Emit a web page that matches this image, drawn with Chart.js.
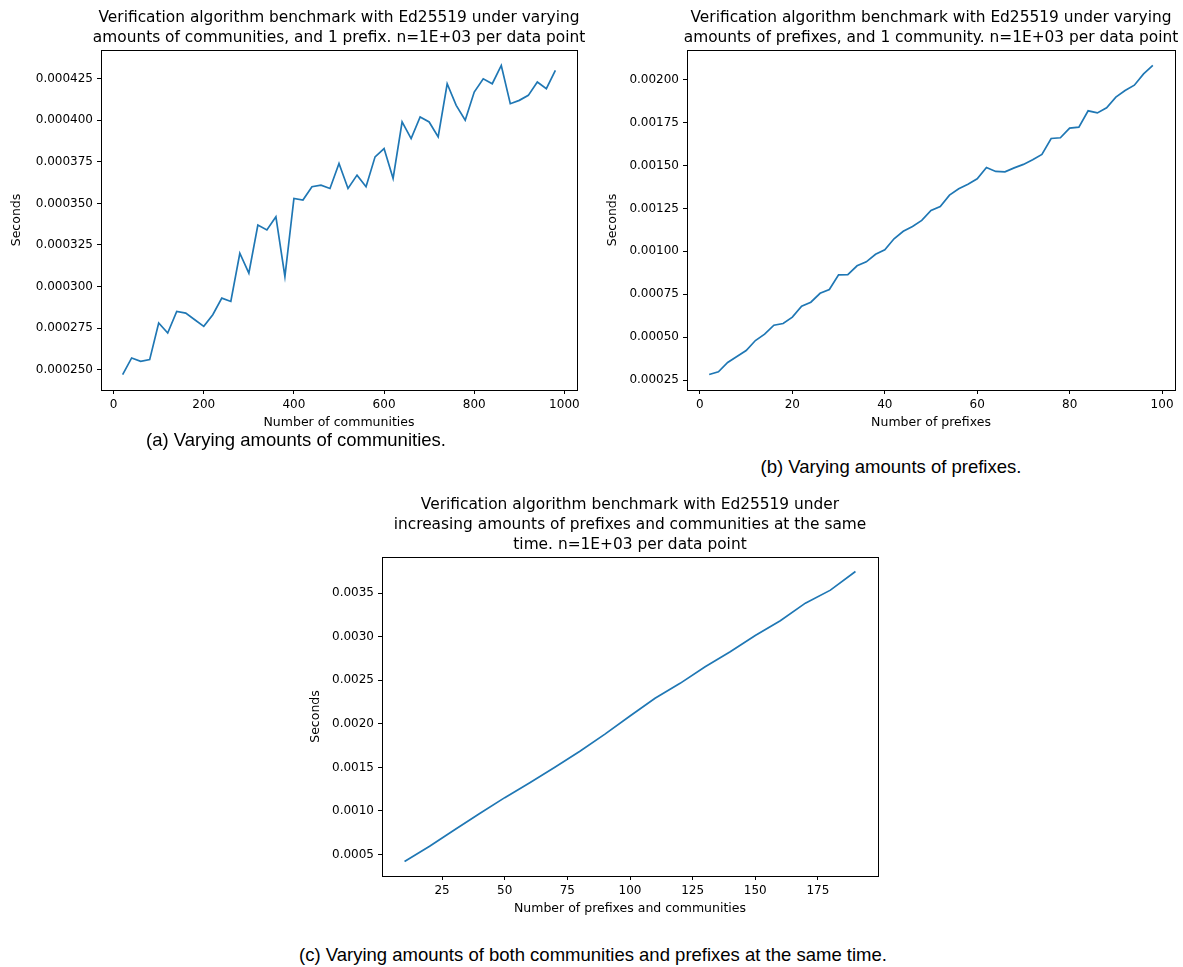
<!DOCTYPE html>
<html>
<head>
<meta charset="utf-8">
<script src="https://cdn.jsdelivr.net/npm/chart.js@4.4.1/dist/chart.umd.min.js"></script>
<style>
  html, body { margin: 0; padding: 0; background: #fff; }
  body { width: 1183px; height: 967px; position: relative; overflow: hidden; }
  canvas { position: absolute; }
  .caption {
    position: absolute; font-family: "Liberation Sans", Arial, sans-serif;
    font-size: 18.5px; color: #000; white-space: nowrap; transform: translate(-50%, -50%);
  }
</style>
</head>
<body>
<canvas id="chartA" width="600" height="440" style="left:0px;top:0px"></canvas>
<canvas id="chartB" width="593" height="440" style="left:590px;top:0px"></canvas>
<canvas id="chartC" width="600" height="440" style="left:290px;top:480px"></canvas>
<div class="caption" style="left:296px;top:440px">(a) Varying amounts of communities.</div>
<div class="caption" style="left:891px;top:467px">(b) Varying amounts of prefixes.</div>
<div class="caption" style="left:593px;top:955px">(c) Varying amounts of both communities and prefixes at the same time.</div>
<script>
// Benchmark (a): number of communities, 1 prefix
const communities = [20, 40, 60, 80, 100, 120, 140, 160, 180, 200, 220, 240, 260, 280, 300, 320, 340, 360, 380, 400,
  420, 440, 460, 480, 500, 520, 540, 560, 580, 600, 620, 640, 660, 680, 700, 720, 740, 760, 780, 800,
  820, 840, 860, 880, 900, 920, 940, 960, 980];
const communitySeconds = [0.000247, 0.000257, 0.000255, 0.000256, 0.000278, 0.000272, 0.000285, 0.000284, 0.000280, 0.000276,
  0.000283, 0.000293, 0.000291, 0.000320, 0.000308, 0.000337, 0.000334, 0.000342, 0.000306, 0.000353,
  0.000352, 0.000360, 0.000361, 0.000359, 0.000374, 0.000359, 0.000367, 0.000360, 0.000378, 0.000383,
  0.000365, 0.000399, 0.000389, 0.000402, 0.000399, 0.000390, 0.000422, 0.000409, 0.000400, 0.000417,
  0.000425, 0.000422, 0.000433, 0.000410, 0.000412, 0.000415, 0.000423, 0.000419, 0.000430];

// Benchmark (b): number of prefixes, 1 community
const prefixes = [2, 4, 6, 8, 10, 12, 14, 16, 18, 20, 22, 24, 26, 28, 30, 32, 34, 36, 38, 40,
  42, 44, 46, 48, 50, 52, 54, 56, 58, 60, 62, 64, 66, 68, 70, 72, 74, 76, 78, 80,
  82, 84, 86, 88, 90, 92, 94, 96, 98];
const prefixSeconds = [0.000283, 0.000299, 0.000353, 0.000388, 0.000423, 0.000481, 0.000518, 0.000570, 0.000580, 0.000617,
  0.000681, 0.000704, 0.000756, 0.000778, 0.000863, 0.000865, 0.000916, 0.000939, 0.000983, 0.001009,
  0.001073, 0.001117, 0.001145, 0.001180, 0.001238, 0.001261, 0.001327, 0.001364, 0.001391, 0.001422,
  0.001488, 0.001465, 0.001463, 0.001486, 0.001506, 0.001533, 0.001564, 0.001657, 0.001661, 0.001717,
  0.001723, 0.001818, 0.001806, 0.001836, 0.001898, 0.001936, 0.001967, 0.002033, 0.002082];

// Benchmark (c): prefixes and communities increased together
const combined = [10, 20, 30, 40, 50, 60, 70, 80, 90, 100, 110, 120, 130, 140, 150, 160, 170, 180, 190];
const combinedSeconds = [0.000420, 0.000595, 0.000785, 0.000970, 0.001153, 0.001324, 0.001502, 0.001685, 0.001882, 0.002090,
  0.002293, 0.002465, 0.002656, 0.002828, 0.003015, 0.003183, 0.003386, 0.003535, 0.003749];

// Tick positions and labels
const xTicksA = [0, 200, 400, 600, 800, 1000];
const yTicksA = ['0.000250', '0.000275', '0.000300', '0.000325', '0.000350', '0.000375', '0.000400', '0.000425'];
const xTicksB = [0, 20, 40, 60, 80, 100];
const yTicksB = ['0.00025', '0.00050', '0.00075', '0.00100', '0.00125', '0.00150', '0.00175', '0.00200'];
const xTicksC = [25, 50, 75, 100, 125, 150, 175];
const yTicksC = ['0.0005', '0.0010', '0.0015', '0.0020', '0.0025', '0.0030', '0.0035'];

const titleA = ['Verification algorithm benchmark with Ed25519 under varying',
  'amounts of communities, and 1 prefix. n=1E+03 per data point'];
const titleB = ['Verification algorithm benchmark with Ed25519 under varying',
  'amounts of prefixes, and 1 community. n=1E+03 per data point'];
const titleC = ['Verification algorithm benchmark with Ed25519 under',
  'increasing amounts of prefixes and communities at the same',
  'time. n=1E+03 per data point'];

const FONT = '"DejaVu Sans", sans-serif';
const LINE = '#1f77b4';

// Box around the plotting area (all four spines)
const frame = {
  id: 'frame',
  afterDraw(chart) {
    const {ctx, chartArea: a} = chart;
    ctx.save();
    ctx.strokeStyle = '#000';
    ctx.lineWidth = 1;
    ctx.strokeRect(Math.round(a.left) + 0.5, Math.round(a.top) + 0.5,
      Math.round(a.right - a.left), Math.round(a.bottom - a.top));
    ctx.restore();
  }
};

// Center the title over the plotting area rather than over the whole canvas
const centerTitle = {
  id: 'centerTitle',
  afterLayout(chart) {
    const t = chart.titleBlock, a = chart.chartArea;
    if (!t) return;
    const cx = (a.left + a.right) / 2;
    t.left = cx - 300;
    t.right = cx + 300;
    t.width = 600;
  }
};

// Autoscale with 5% margins on each side
function padded(values) {
  const lo = Math.min(...values), hi = Math.max(...values);
  const m = (hi - lo) * 0.05;
  return [lo - m, hi + m];
}

function makeChart(id, cfg) {
  const points = cfg.xs.map((x, i) => ({x, y: cfg.ys[i]}));
  const [xmin, xmax] = padded(cfg.xs);
  const [ymin, ymax] = padded(cfg.ys);
  const yVals = cfg.yLabels.map(Number);
  const yStep = yVals[1] - yVals[0];
  const xStep = cfg.xTicks[1] - cfg.xTicks[0];
  const tickGrid = {display: true, drawOnChartArea: false, drawTicks: true, tickLength: 4,
    tickColor: '#000', tickWidth: 1};
  return new Chart(document.getElementById(id), {
    type: 'line',
    data: {datasets: [{data: points, borderColor: LINE, borderWidth: 1.7, pointRadius: 0,
      tension: 0, fill: false}]},
    options: {
      responsive: false, animation: false, devicePixelRatio: 1,
      layout: {padding: cfg.pad},
      plugins: {
        legend: {display: false}, tooltip: {enabled: false},
        title: {display: true, text: cfg.title, color: '#000',
          font: {family: FONT, size: 15.4, weight: 'normal', lineHeight: '20px'},
          padding: cfg.titlePad}
      },
      scales: {
        x: {
          type: 'linear', min: xmin, max: xmax,
          grid: tickGrid, border: {display: false},
          ticks: {stepSize: xStep, includeBounds: false, color: '#000', padding: 4,
            maxRotation: 0, autoSkip: false, font: {family: FONT, size: 12},
            callback: v => String(Math.round(v))},
          afterBuildTicks: s => { s.ticks = cfg.xTicks.filter(v => v >= xmin && v <= xmax).map(v => ({value: v})); },
          title: {display: true, text: cfg.xTitle, color: '#000',
            font: {family: FONT, size: 12.5}, padding: {top: 0, bottom: cfg.xTitlePad}},
          afterFit: s => { s.height = cfg.xHeight; }
        },
        y: {
          type: 'linear', min: ymin, max: ymax,
          grid: tickGrid, border: {display: false},
          ticks: {stepSize: yStep, includeBounds: false, color: '#000', padding: 4,
            autoSkip: false, font: {family: FONT, size: 12},
            callback: v => v.toFixed(cfg.decimals)},
          afterBuildTicks: s => { s.ticks = yVals.map(v => ({value: v})); },
          title: {display: true, text: 'Seconds', color: '#000',
            font: {family: FONT, size: 12.5}, padding: {top: cfg.yTitlePad, bottom: 0}},
          afterFit: s => { s.width = cfg.yWidth; }
        }
      }
    },
    plugins: [frame, centerTitle]
  });
}

makeChart('chartA', {
  xs: communities, ys: communitySeconds, xTicks: xTicksA, yLabels: yTicksA, decimals: 6,
  title: titleA, titlePad: {top: 8, bottom: 2}, xTitle: 'Number of communities',
  pad: {left: 0, right: 23, top: 0, bottom: 0}, yWidth: 101, xHeight: 50,
  xTitlePad: 10, yTitlePad: 9
});

makeChart('chartB', {
  xs: prefixes, ys: prefixSeconds, xTicks: xTicksB, yLabels: yTicksB, decimals: 5,
  title: titleB, titlePad: {top: 8, bottom: 2}, xTitle: 'Number of prefixes',
  pad: {left: 0, right: 8, top: 0, bottom: 0}, yWidth: 97, xHeight: 50,
  xTitlePad: 10, yTitlePad: 15
});

makeChart('chartC', {
  xs: combined, ys: combinedSeconds, xTicks: xTicksC, yLabels: yTicksC, decimals: 4,
  title: titleC, titlePad: {top: 15, bottom: 2}, xTitle: 'Number of prefixes and communities',
  pad: {left: 0, right: 12, top: 0, bottom: 0}, yWidth: 92, xHeight: 44,
  xTitlePad: 4, yTitlePad: 18
});
</script>
</body>
</html>
